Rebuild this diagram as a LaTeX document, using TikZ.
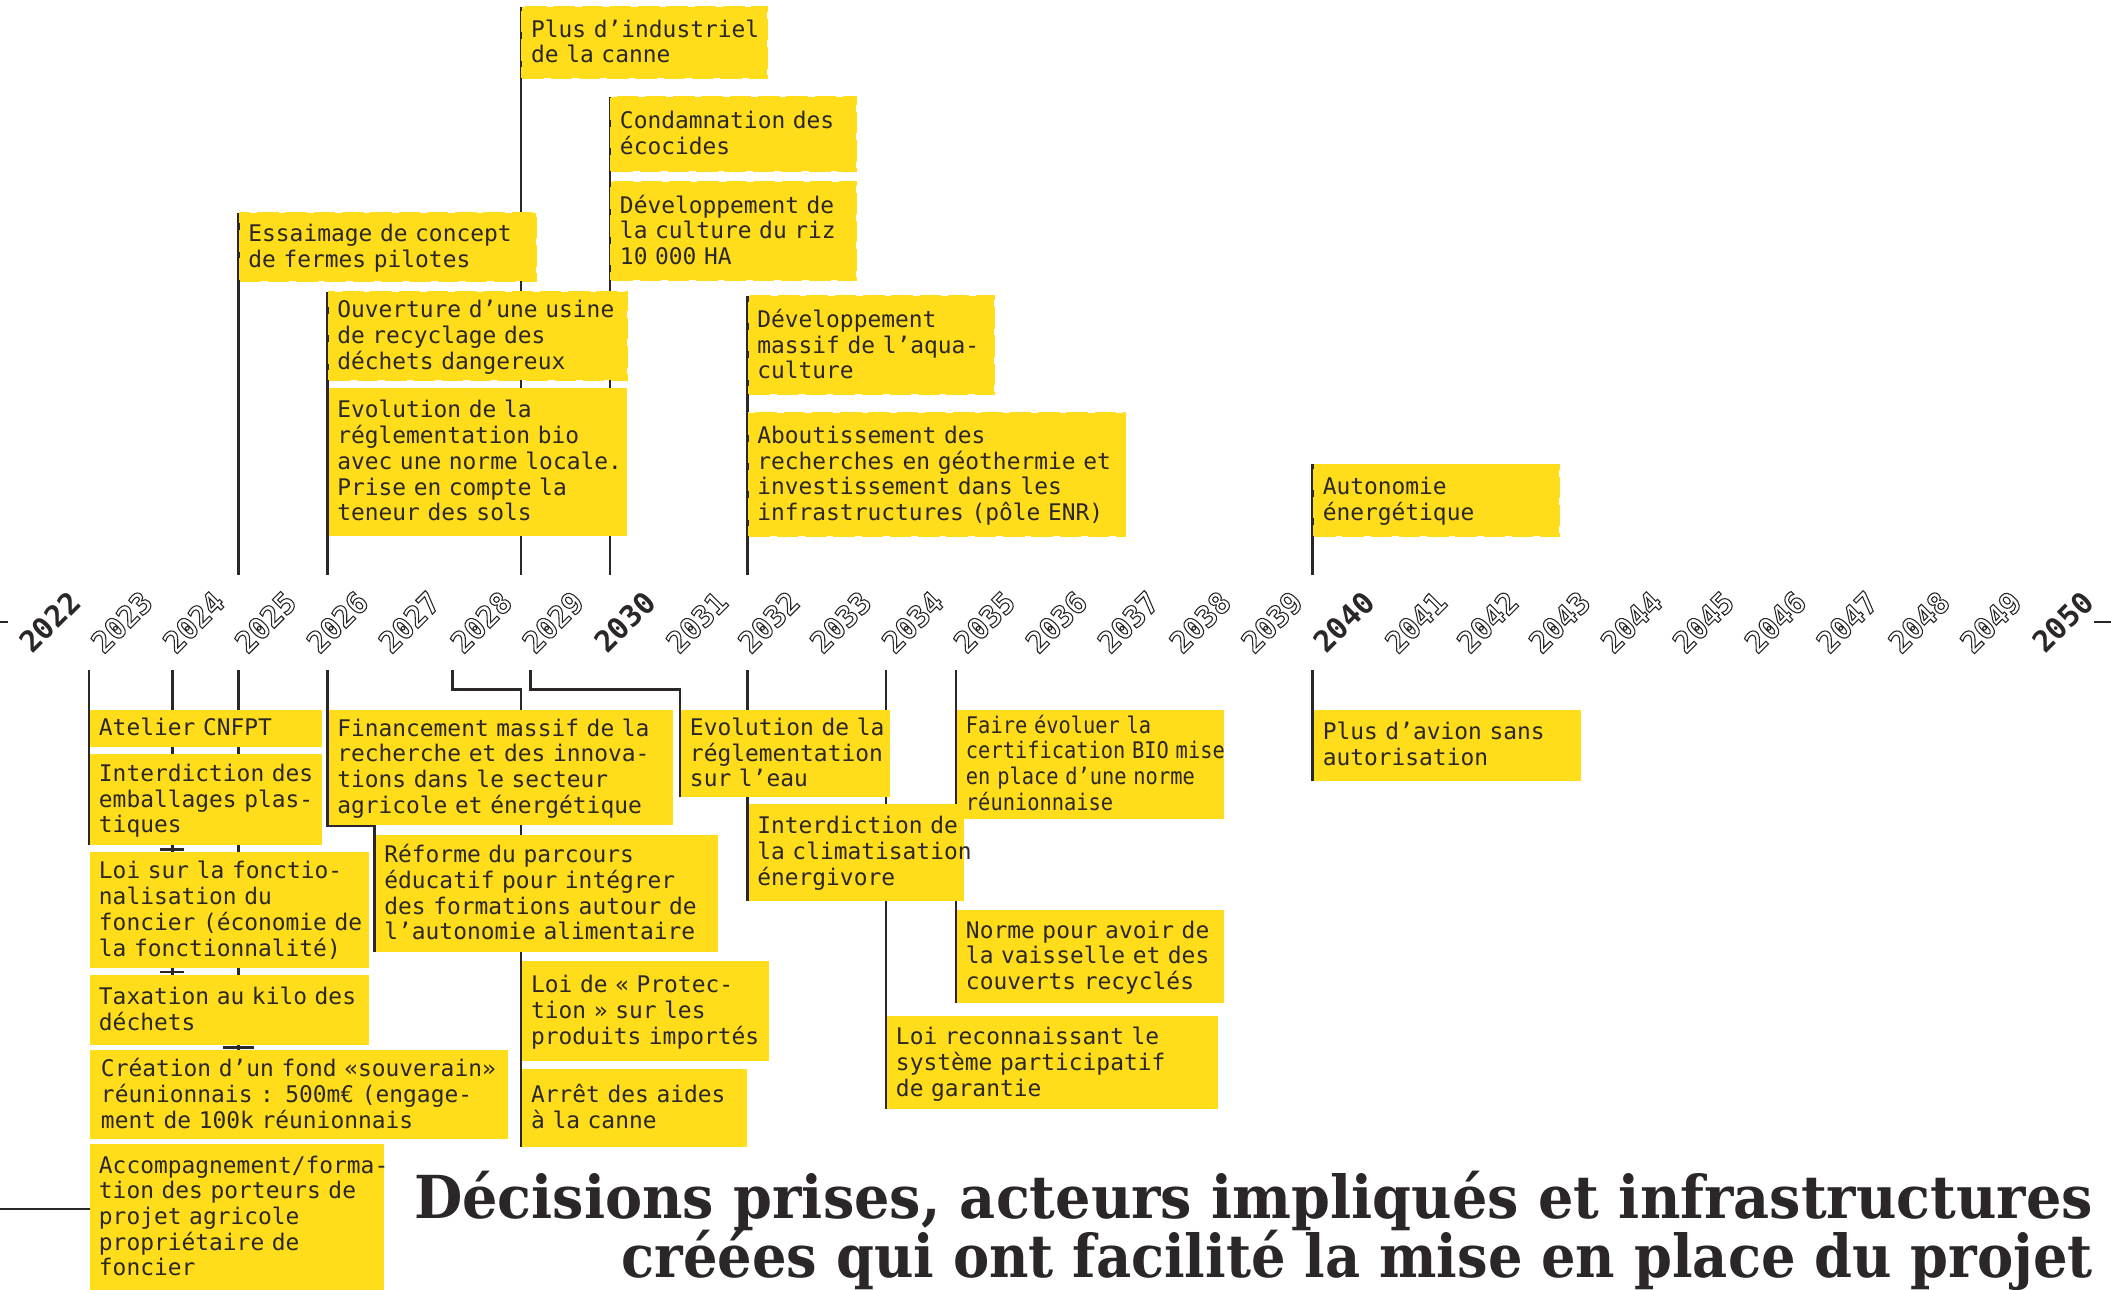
\documentclass[tikz,border=0pt]{standalone}
\usepackage{fontspec}
\usepackage{graphicx}
\usetikzlibrary{backgrounds,calc}

\newfontfamily\boxfont{DejaVu Sans Mono}
\newfontfamily\yearfont{DejaVu Sans Mono}
\newfontfamily\titlefont{DejaVu Serif}

\definecolor{boxyellow}{HTML}{FFDD1A}
\definecolor{ink}{HTML}{2B2728}

\newlength\titlewd
\newlength\titlewdb
% several lines of a box, never re-broken, set a little low in the box
\newcommand\boxlines[1]{\raisebox{-0.9pt}[\height][\depth]{\begin{tabular}{@{}l@{}}#1\end{tabular}}}
% stroked (hollow) glyphs for the plain years
\newcommand\hollow[1]{\special{pdf:literal direct 1 Tr 0.4 w}#1\special{pdf:literal direct 0 Tr}}
\newcommand\titlesize{\titlefont\bfseries\fontsize{22pt}{22pt}\selectfont}

\tikzset{
  box/.style={anchor=north west, fill=boxyellow, text=ink, inner xsep=3.25pt,
    inner ysep=0pt, outer sep=0pt, align=left,
    font=\boxfont\fontsize{8.5pt}{9.5pt}\selectfont},
  tornbox/.style={box, draw=boxyellow, line width=0.7pt, dash pattern=on 8pt off 2.5pt},
  dims/.style 2 args={text width=#1, minimum height=#2},
  conn/.style={draw=ink, line width=1pt},
  bigyear/.style={rotate=45, text=ink, inner sep=0pt,
    font=\yearfont\bfseries\fontsize{11pt}{11pt}\selectfont},
  smallyear/.style={bigyear},
  titletext/.style={anchor=base east, inner sep=0pt, text=ink},
}

\begin{document}
% horizontal squeeze that brings each title line to its width
\settowidth\titlewd{\titlesize Décisions prises, acteurs impliqués et infrastructures}
\settowidth\titlewdb{\titlesize créées qui ont facilité la mise en place du projet}
\pgfmathsetmacro\tsx{623.5pt/\titlewd}
\pgfmathsetmacro\tsxb{546.5pt/\titlewdb}
\begin{tikzpicture}[x=0.5pt, y=-0.5pt]
\useasboundingbox (0,0) rectangle (1568,958);

% ---------- years along the axis ----------
\foreach \yr in {2022,...,2050}{
  \pgfmathtruncatemacro\isdec{(\yr==2022)||(mod(\yr,10)==0)}
  \ifnum\isdec=1
    \node[bigyear] (y\yr) at ({37+53.4*(\yr-2022)},462) {\yr};
  \else
    \node[smallyear] (y\yr) at ({37+53.4*(\yr-2022)},462) {\hollow{\yr}};
  \fi
}
\coordinate (axisL) at (0,462);
\coordinate (axisR) at (1568,462);

% ---------- tick ends above and below the axis ----------
\foreach \x in {177,243,387,453,555,975}{\coordinate (ut\x) at (\x,427);}
\foreach \x in {66,128,177,243,336,394,555,658,710,975}{\coordinate (lt\x) at (\x,498);}
\coordinate (edgeL) at (0,898);

% ---------- upper boxes ----------
\node[tornbox, dims={84.5pt}{26.5pt}] (plus) at (388,5)
  {\boxlines{Plus d’industriel\\de la canne}};
\node[tornbox, dims={84.5pt}{27.5pt}] (ecocide) at (454,72)
  {\boxlines{Condamnation des\\écocides}};
\node[tornbox, dims={84.5pt}{36.5pt}] (riz) at (454,135)
  {\boxlines{Développement de\\la culture du riz\\10 000 HA}};
\node[tornbox, dims={103.5pt}{25.5pt}] (essaimage) at (178,158)
  {\boxlines{Essaimage de concept\\de fermes pilotes}};
\node[tornbox, dims={104.5pt}{32.5pt}] (usine) at (244,217)
  {\boxlines{Ouverture d’une usine\\de recyclage des\\déchets dangereux}};
\node[box, dims={104.5pt}{55pt}] (bio) at (244,288)
  {\boxlines{Evolution de la\\réglementation bio\\avec une norme locale.\\Prise en compte la\\teneur des sols}};
\node[tornbox, dims={84.5pt}{36.5pt}] (aqua) at (556,220)
  {\boxlines{Développement\\massif de l’aqua-\\culture}};
\node[tornbox, dims={133.5pt}{45.5pt}] (geo) at (556,307)
  {\boxlines{Aboutissement des\\recherches en géothermie et\\investissement dans les\\infrastructures (pôle ENR)}};
\node[tornbox, dims={84.5pt}{26.5pt}] (autonomie) at (976,345)
  {\boxlines{Autonomie\\énergétique}};

% ---------- lower boxes ----------
\node[box, dims={79.5pt}{14pt}] (cnfpt) at (67,527)
  {\boxlines{Atelier CNFPT}};
\node[box, dims={79.5pt}{34pt}] (emballages) at (67,560)
  {\boxlines{Interdiction des\\emballages plas-\\tiques}};
\node[box, dims={97pt}{43pt}] (foncier) at (67,633)
  {\boxlines{Loi sur la fonctio-\\nalisation du\\foncier (économie de\\la fonctionnalité)}};
\node[box, dims={97pt}{26pt}] (taxation) at (67,724)
  {\boxlines{Taxation au kilo des\\déchets}};
\node[box, inner xsep=4pt, dims={147pt}{33pt}] (fonds) at (67,780)
  {\boxlines{Création d’un fond «souverain»\\réunionnais : 500m€ (engage-\\ment de 100k réunionnais}};
\node[box, dims={102.5pt}{54pt}] (accomp) at (67,850)
  {\boxlines{Accompagnement/forma-\\tion des porteurs de\\projet agricole\\propriétaire de\\foncier}};
\node[box, dims={121.5pt}{43pt}] (financement) at (244,527)
  {\boxlines{Financement massif de la\\recherche et des innova-\\tions dans le secteur\\agricole et énergétique}};
\node[box, dims={120.5pt}{43.5pt}] (reforme) at (279,620)
  {\boxlines{Réforme du parcours\\éducatif pour intégrer\\des formations autour de\\l’autonomie alimentaire}};
\node[box, dims={85pt}{37pt}] (protection) at (388,714)
  {\boxlines{Loi de « Protec-\\tion » sur les\\produits importés}};
\node[box, dims={77pt}{29pt}] (canne) at (388,794)
  {\boxlines{Arrêt des aides\\à la canne}};
\node[box, dims={71pt}{32.5pt}] (eau) at (506,527)
  {\boxlines{Evolution de la\\réglementation\\sur l’eau}};
\node[box, dims={73.5pt}{36pt}] (clim) at (556,597)
  {\boxlines{Interdiction de\\la climatisation\\énergivore}};
\node[box, dims={116.5pt}{34.5pt}] (garantie) at (659,755)
  {\boxlines{Loi reconnaissant le\\système participatif\\de garantie}};
\node[box, dims={92.5pt}{40.5pt}] (certif) at (711,527)
  {\scalebox{0.89}[1]{\boxlines{Faire évoluer la\\certification BIO mise\\en place d’une norme\\réunionnaise}}};
\node[box, dims={92.5pt}{34.5pt}] (vaisselle) at (711,676)
  {\boxlines{Norme pour avoir de\\la vaisselle et des\\couverts recyclés}};
\node[box, dims={92.5pt}{26.5pt}] (avion) at (976,527)
  {\boxlines{Plus d’avion sans\\autorisation}};

% ---------- title ----------
\node[titletext] (title1) at (1555,905)
  {\scalebox{\tsx}[1]{\titlesize Décisions prises, acteurs impliqués et infrastructures}};
\node[titletext] (title2) at (1555,949)
  {\scalebox{\tsxb}[1]{\titlesize créées qui ont facilité la mise en place du projet}};

% ---------- connectors, behind the boxes ----------
\begin{pgfonlayer}{background}
  \draw[conn] (axisL) -- ++(6,0);
  \draw[conn] (axisR) -- ++(-13,0);
  % above the axis
  \draw[conn] (ut177) -- (ut177 |- essaimage.north);
  \draw[conn] (ut243) -- (ut243 |- usine.north);
  \draw[conn] (ut387) -- (ut387 |- plus.north);
  \draw[conn] (ut453) -- (ut453 |- ecocide.north);
  \draw[conn] (ut555) -- (ut555 |- aqua.north);
  \draw[conn] (ut975) -- (ut975 |- autonomie.north);
  % below the axis
  \draw[conn] (lt66) -- (lt66 |- emballages.south);
  \draw[conn] (lt128) -- (lt128 |- taxation.north);
  \draw[conn] ($(lt128 |- foncier.north)+(-9,-2)$) -- ++(18,0);
  \draw[conn] ($(lt128 |- taxation.north)+(-9,-2)$) -- ++(18,0);
  \draw[conn] (lt177) -- (lt177 |- fonds.north);
  \draw[conn] ($(lt177 |- fonds.north)+(-11,-2)$) -- ++(23,0);
  \draw[conn] (lt243) -- (lt243 |- financement.south) -| ([xshift=-0.5pt]reforme.south west);
  \draw[conn] (lt336) -- ++(0,14) -| ([xshift=-0.5pt]canne.south west);
  \draw[conn] (lt394) -- ++(0,14) -| ([xshift=-0.5pt]eau.south west);
  \draw[conn] (lt555) -- (lt555 |- clim.south);
  \draw[conn] (lt658) -- (lt658 |- garantie.south);
  \draw[conn] (lt710) -- (lt710 |- vaisselle.south);
  \draw[conn] (lt975) -- (lt975 |- avion.south);
  \draw[conn] (edgeL) -- (edgeL -| accomp.west);
\end{pgfonlayer}
\end{tikzpicture}
\end{document}
